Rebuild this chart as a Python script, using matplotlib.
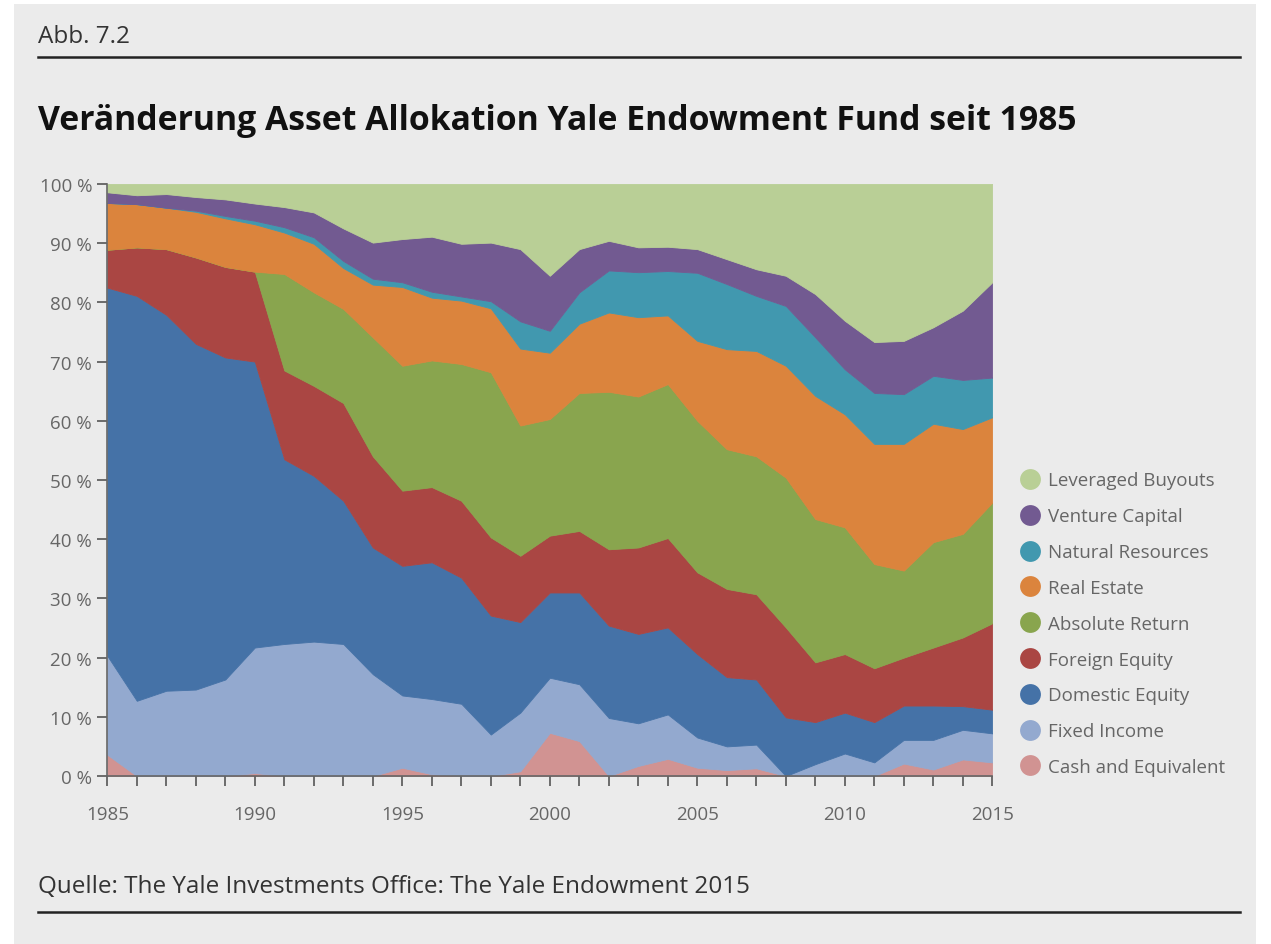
import numpy as np
import matplotlib.pyplot as plt
from matplotlib.lines import Line2D
from matplotlib.patches import Rectangle

years = list(range(1985, 2016))

# Anteile in % (von unten nach oben gestapelt)
cash = [3.6, 0, 0, 0, 0, 0.5, 0, 0, 0, 0, 1.4, 0.3, 0, 0, 0.8, 7.3,
        5.9, 0, 1.7, 2.9, 1.4, 1.0, 1.3, 0, 0, 0, 0, 2.1, 1.1, 2.8, 2.3]
fixed_income = [16.7, 12.7, 14.4, 14.6, 16.3, 21.2, 22.3, 22.7, 22.3, 17.2, 12.2,
                12.7, 12.2, 7.0, 9.9, 9.3, 9.6, 9.8, 7.2, 7.5, 5.1, 4.0, 4.0,
                0, 2.0, 3.8, 2.3, 4.0, 5.0, 5.0, 4.9]
domestic = [62.2, 68.4, 63.5, 58.4, 54.4, 48.3, 31.2, 28.0, 24.2, 21.4, 21.9,
            23.1, 21.3, 20.1, 15.3, 14.4, 15.5, 15.6, 15.1, 14.7, 14.1, 11.7,
            11.0, 9.9, 7.1, 6.9, 6.8, 5.8, 5.8, 4.0, 4.0]
foreign = [6.4, 8.2, 11.1, 14.6, 15.3, 15.2, 15.0, 15.2, 16.5, 15.4, 12.7,
           12.7, 13.0, 13.2, 11.2, 9.6, 10.4, 12.9, 14.6, 15.1, 13.8, 14.9,
           14.4, 15.2, 10.1, 9.9, 9.1, 8.1, 9.8, 11.6, 14.6]
absolute = [0, 0, 0, 0, 0, 0, 16.3, 15.8, 15.9, 20.1, 21.1, 21.4, 23.1, 27.9,
            22.0, 19.7, 23.3, 26.6, 25.5, 26.0, 25.6, 23.6, 23.3, 25.3, 24.2,
            21.4, 17.6, 14.7, 17.8, 17.5, 20.4]
real_estate = [7.9, 7.3, 7.0, 7.7, 8.2, 8.0, 7.0, 8.2, 6.9, 8.9, 13.3, 10.6,
               10.7, 10.8, 13.0, 11.2, 11.7, 13.4, 13.4, 11.6, 13.5, 16.9, 17.8,
               18.9, 20.8, 19.1, 20.3, 21.4, 20.0, 17.7, 14.4]
natural = [0, 0, 0, 0.2, 0.4, 0.6, 0.9, 1.1, 1.2, 1.0, 0.8, 1.0, 0.7, 1.2, 4.6,
           3.7, 5.3, 7.1, 7.6, 7.5, 11.5, 11.0, 9.3, 10.1, 9.9, 7.6, 8.6, 8.4,
           8.1, 8.3, 6.7]
venture = [1.8, 1.5, 2.3, 2.3, 2.8, 2.9, 3.4, 4.2, 5.5, 6.1, 7.3, 9.3, 8.9, 9.9,
           12.2, 9.3, 7.3, 5.0, 4.2, 4.1, 4.0, 4.2, 4.5, 5.1, 7.3, 8.2, 8.6, 9.0,
           8.2, 11.7, 16.1]
buyouts = [1.4, 1.9, 1.7, 2.2, 2.6, 3.3, 3.9, 4.8, 7.5, 9.9, 9.3, 8.9, 10.1, 9.9,
           11.0, 15.5, 11.0, 9.6, 10.7, 10.6, 11.0, 12.7, 14.4, 15.5, 18.6, 23.1,
           26.7, 26.5, 24.2, 21.4, 16.6]

labels = ['Cash and Equivalent', 'Fixed Income', 'Domestic Equity', 'Foreign Equity',
          'Absolute Return', 'Real Estate', 'Natural Resources', 'Venture Capital',
          'Leveraged Buyouts']
colors = ['#d19392', '#93a9cf', '#4572a7', '#aa4643', '#89a54e',
          '#db843d', '#4198af', '#725a91', '#b9cf96']

plt.rcParams['font.family'] = ['Open Sans', 'DejaVu Sans']

W, H = 1271, 945
fig = plt.figure(figsize=(W / 100, H / 100), dpi=100, facecolor='white')

# grauer Hintergrund
fig.patches.append(Rectangle((14 / W, 0), (1256 - 14) / W, 1 - 5 / H,
                             transform=fig.transFigure, facecolor='#ebebeb',
                             edgecolor='none', zorder=-10))

ax = fig.add_axes([107.3 / W, 1 - 777 / H, (992.3 - 107.3) / W, (777 - 185) / H])
ax.set_facecolor('#ebebeb')

ax.stackplot(years, cash, fixed_income, domestic, foreign, absolute, real_estate,
             natural, venture, buyouts, colors=colors, labels=labels,
             edgecolor='face', linewidth=0.6)

ax.set_xlim(1985, 2015)
ax.set_ylim(0, 100)
ax.set_yticks(range(0, 101, 10))
ax.set_yticklabels([f'{v} %' for v in range(0, 101, 10)])
ax.set_xticks(years)
ax.set_xticklabels([str(y) if y % 5 == 0 else '' for y in years])

ax.tick_params(axis='y', length=7, width=1.2, color='#555555', pad=4,
               labelsize=13.5, labelcolor='#666666')
ax.tick_params(axis='x', length=7, width=1.2, color='#555555', pad=14,
               labelsize=13.5, labelcolor='#666666')
for s in ['top', 'right']:
    ax.spines[s].set_visible(False)
for s in ['left', 'bottom']:
    ax.spines[s].set_color('#666666')
    ax.spines[s].set_linewidth(1.2)

# Legende (umgekehrte Reihenfolge)
handles = [Line2D([], [], marker='o', linestyle='none', markersize=15,
                  markerfacecolor=c, markeredgecolor='none') for c in colors[::-1]]
fig.legend(handles, labels[::-1], loc='upper left',
           bbox_to_anchor=(1008 / W, 1 - 465 / H), frameon=False,
           fontsize=13.5, labelcolor='#666666', labelspacing=0.95,
           handletextpad=0.25, handlelength=1.5, borderaxespad=0)

# Texte und Linien
fig.text(38 / W, 1 - 37 / H, 'Abb. 7.2', fontsize=17.5, color='#333333', va='center')
fig.add_artist(Line2D([38 / W, 1240 / W], [1 - 58 / H, 1 - 58 / H], color='#222222', lw=1.8))
fig.text(38 / W, 1 - 121 / H, 'Veränderung Asset Allokation Yale Endowment Fund seit 1985',
         fontsize=24.3, fontweight='bold', color='#111111', va='center')
fig.text(38 / W, 1 - 887 / H, 'Quelle: The Yale Investments Office: The Yale Endowment 2015',
         fontsize=17.5, color='#333333', va='center')
fig.add_artist(Line2D([38 / W, 1240 / W], [1 - 913 / H, 1 - 913 / H], color='#222222', lw=1.8))

fig.savefig('out.png', dpi=100, facecolor=fig.get_facecolor())
